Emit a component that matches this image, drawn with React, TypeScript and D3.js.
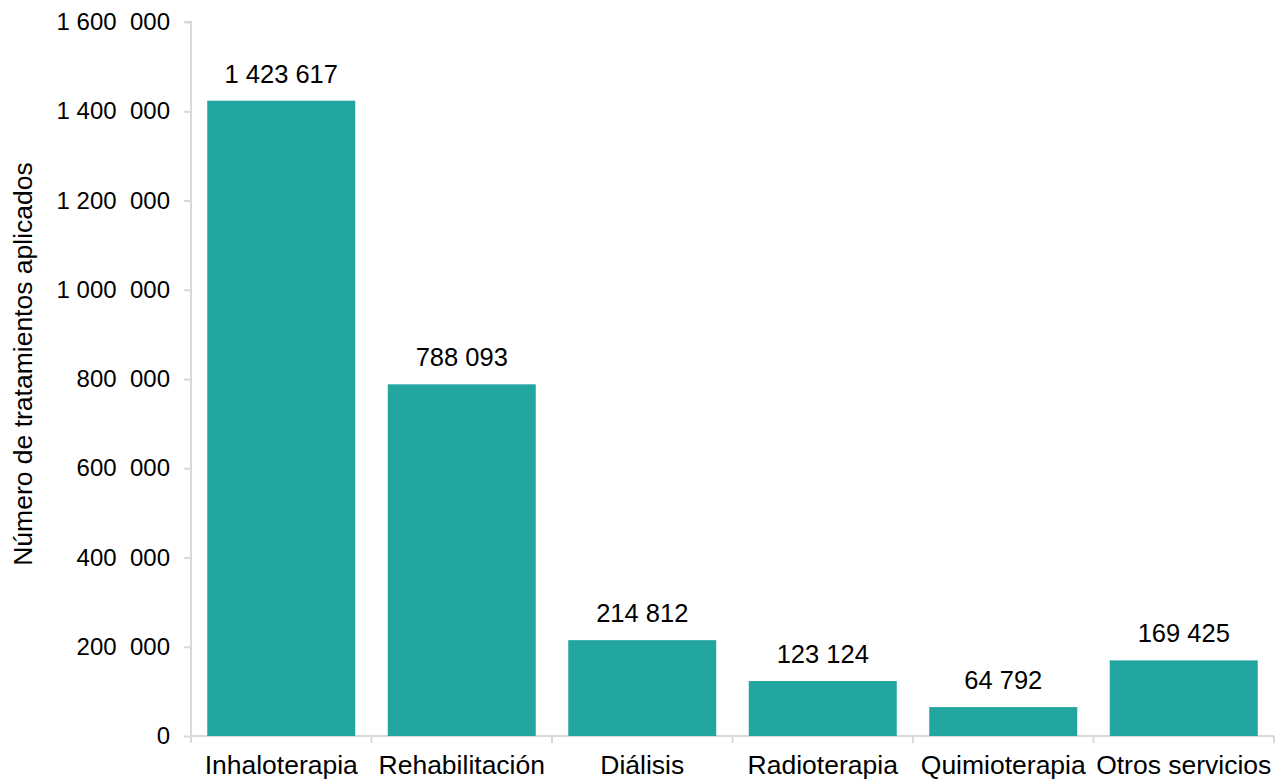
import React, { useEffect, useRef } from "react";
import * as d3 from "d3";

const categories = [
  "Inhaloterapia",
  "Rehabilitación",
  "Diálisis",
  "Radioterapia",
  "Quimioterapia",
  "Otros servicios",
];
const values = [1423617, 788093, 214812, 123124, 64792, 169425];
const valueLabels = ["1 423 617", "788 093", "214 812", "123 124", "64 792", "169 425"];
const yTicks = [0, 200000, 400000, 600000, 800000, 1000000, 1200000, 1400000, 1600000];
const yTickLabels = [
  "0",
  "200  000",
  "400  000",
  "600  000",
  "800  000",
  "1 000  000",
  "1 200  000",
  "1 400  000",
  "1 600  000",
];
const yTitle = "Número de tratamientos aplicados";

const W = 1275;
const H = 780;
const FONT = "'Liberation Sans', Arial, sans-serif";

const drawChart = (svgEl: SVGSVGElement) => {
  const svg = d3.select(svgEl);
  svg.selectAll("*").remove();

  const left = 191;
  const right = 1274;
  const top = 22;
  const bottom = 736;

  const x = d3.scaleBand().domain(categories).range([left, right]).paddingInner(0.18).paddingOuter(0.09);
  const y = d3.scaleLinear().domain([0, 1600000]).range([bottom, top]);

  // y axis
  const yAxis = svg
    .append("g")
    .attr("transform", `translate(${left},0)`)
    .call(
      d3
        .axisLeft(y)
        .tickValues(yTicks)
        .tickSize(7)
        .tickPadding(14)
        .tickFormat((_, i) => yTickLabels[i])
    );
  yAxis.select(".domain").attr("stroke", "#d9d9d9").attr("stroke-width", 2).attr("d", `M-7,${top}H0V${bottom}`);
  yAxis.selectAll(".tick line").attr("stroke", "#d9d9d9").attr("stroke-width", 2);
  yAxis
    .selectAll(".tick text")
    .attr("fill", "#000")
    .attr("font-size", 24)
    .attr("font-family", FONT)
    .style("white-space", "pre");

  // x axis
  const boundaries = d3.range(categories.length + 1).map((i) => left + i * ((right - left) / categories.length));
  const xAxis = svg.append("g");
  xAxis
    .append("line")
    .attr("x1", left)
    .attr("x2", right)
    .attr("y1", bottom)
    .attr("y2", bottom)
    .attr("stroke", "#d9d9d9")
    .attr("stroke-width", 2);
  xAxis
    .selectAll("line.tk")
    .data(boundaries)
    .enter()
    .append("line")
    .attr("class", "tk")
    .attr("x1", (d) => d)
    .attr("x2", (d) => d)
    .attr("y1", bottom)
    .attr("y2", bottom + 7)
    .attr("stroke", "#d9d9d9")
    .attr("stroke-width", 2);
  xAxis
    .selectAll("text")
    .data(categories)
    .enter()
    .append("text")
    .attr("x", (d) => (x(d) || 0) + x.bandwidth() / 2)
    .attr("y", 774)
    .attr("text-anchor", "middle")
    .attr("font-size", 26.5)
    .attr("font-family", FONT)
    .text((d) => d);

  // bars
  svg
    .append("g")
    .selectAll("rect")
    .data(values)
    .enter()
    .append("rect")
    .attr("x", (_, i) => x(categories[i]) || 0)
    .attr("width", x.bandwidth())
    .attr("y", (d) => y(d))
    .attr("height", (d) => bottom - y(d))
    .attr("fill", "#23a6a0");

  // value labels
  svg
    .append("g")
    .selectAll("text")
    .data(values)
    .enter()
    .append("text")
    .attr("x", (_, i) => (x(categories[i]) || 0) + x.bandwidth() / 2)
    .attr("y", (d) => y(d) - 18)
    .attr("text-anchor", "middle")
    .attr("font-size", 25.5)
    .attr("font-family", FONT)
    .text((_, i) => valueLabels[i]);

  // y title
  svg
    .append("text")
    .attr("transform", `translate(32,364) rotate(-90)`)
    .attr("text-anchor", "middle")
    .attr("font-size", 26.5)
    .attr("font-family", FONT)
    .text(yTitle);
};

const App = () => {
  const ref = useRef<SVGSVGElement>(null);
  useEffect(() => {
    if (ref.current) drawChart(ref.current);
  }, []);
  return (
    <svg
      ref={ref}
      width={W}
      height={H}
      style={{ position: "absolute", left: 0, top: 0, background: "#fff" }}
    ></svg>
  );
};

export default App;
